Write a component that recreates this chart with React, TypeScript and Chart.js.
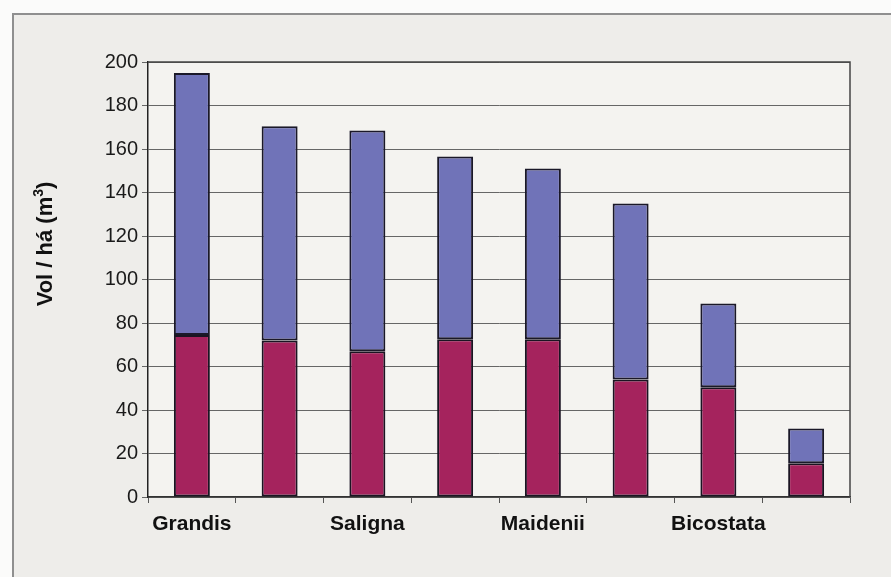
import React, { useEffect, useRef } from "react";
import { Chart, registerables } from "chart.js";

Chart.register(...registerables);

// Species (only every other category carries a printed name)
const categories = ["Grandis", "", "Saligna", "", "Maidenii", "", "Bicostata", ""];
// Lower (magenta) segment of each stacked bar, m³/ha
const lowerValues = [74.5, 72, 67, 72.5, 72.5, 54, 50.5, 15.5];
// Upper (blue) segment of each stacked bar, m³/ha
const upperValues = [120.5, 98.5, 101.5, 84, 78.5, 81, 38.5, 16];
// Y axis range and step
const yMin = 0;
const yMax = 200;
const yStep = 20;
const yTitle = "Vol / há (m";
const yTitleSup = "3";

const FONT = "'Liberation Sans', Arial, Helvetica, sans-serif";

const framePlugin = {
  id: "frame",
  beforeDraw(chart: any) {
    const { ctx, width, height, chartArea } = chart;
    ctx.save();
    ctx.fillStyle = "#fbfbfa";
    ctx.fillRect(0, 0, width, height);
    ctx.fillStyle = "#eeedea";
    ctx.fillRect(13, 14, width - 13, height - 14);
    ctx.strokeStyle = "#8f8f8f";
    ctx.lineWidth = 2;
    ctx.beginPath();
    ctx.moveTo(13, height);
    ctx.lineTo(13, 14);
    ctx.lineTo(width, 14);
    ctx.stroke();
    ctx.fillStyle = "#f4f3f0";
    ctx.fillRect(chartArea.left, chartArea.top, chartArea.right - chartArea.left, chartArea.bottom - chartArea.top);
    ctx.restore();
  },
  afterDraw(chart: any) {
    const { ctx, chartArea } = chart;
    ctx.save();
    // plot border on the top and right
    ctx.strokeStyle = "#444";
    ctx.lineWidth = 1.5;
    ctx.beginPath();
    ctx.moveTo(chartArea.left, chartArea.top);
    ctx.lineTo(chartArea.right, chartArea.top);
    ctx.lineTo(chartArea.right, chartArea.bottom);
    ctx.stroke();
    // rotated y-axis title with superscript
    const mainFont = `bold 22px ${FONT}`;
    const supFont = `bold 14px ${FONT}`;
    ctx.font = mainFont;
    const w1 = ctx.measureText(yTitle).width;
    ctx.font = supFont;
    const w2 = ctx.measureText(yTitleSup).width;
    ctx.font = mainFont;
    const w3 = ctx.measureText(")").width;
    const total = w1 + w2 + w3;
    ctx.translate(46, 244);
    ctx.rotate(-Math.PI / 2);
    ctx.fillStyle = "#111";
    ctx.textBaseline = "middle";
    ctx.textAlign = "left";
    let x = -total / 2;
    ctx.font = mainFont;
    ctx.fillText(yTitle, x, 0);
    x += w1;
    ctx.font = supFont;
    ctx.fillText(yTitleSup, x, -7);
    x += w2;
    ctx.font = mainFont;
    ctx.fillText(")", x, 0);
    ctx.restore();
  },
};

export default function App() {
  const canvasRef = useRef<HTMLCanvasElement | null>(null);

  useEffect(() => {
    if (!canvasRef.current) return;
    const chart = new Chart(canvasRef.current, {
      type: "bar",
      data: {
        labels: categories,
        datasets: [
          {
            data: lowerValues,
            backgroundColor: "#a5235d",
            borderColor: "#1a1422",
            borderWidth: 2,
            borderSkipped: false,
          },
          {
            data: upperValues,
            backgroundColor: "#7073b8",
            borderColor: "#1a1828",
            borderWidth: 2,
            borderSkipped: false,
          },
        ],
      },
      options: {
        responsive: false,
        animation: false,
        events: [],
        layout: { padding: { top: 62, right: 41, left: 0, bottom: 0 } },
        datasets: { bar: { categoryPercentage: 1, barPercentage: 0.41 } },
        plugins: { legend: { display: false }, tooltip: { enabled: false }, title: { display: false } },
        scales: {
          x: {
            stacked: true,
            offset: true,
            grid: { display: true, drawOnChartArea: false, offset: true, tickLength: 6, color: "#555", lineWidth: 1 },
            border: { display: true, color: "#333", width: 1.5 },
            ticks: {
              autoSkip: false,
              maxRotation: 0,
              padding: 9,
              color: "#111",
              font: { family: FONT, size: 21, weight: "bold" },
            },
            afterFit(scale: any) {
              scale.height = 80;
            },
          },
          y: {
            stacked: true,
            min: yMin,
            max: yMax,
            grid: { color: "#666", lineWidth: 1, tickLength: 6 },
            border: { display: true, color: "#222", width: 1.5 },
            ticks: {
              stepSize: yStep,
              padding: 4,
              color: "#1a1a1a",
              font: { family: FONT, size: 20 },
            },
            afterFit(scale: any) {
              scale.width = 148;
            },
          },
        },
      },
      plugins: [framePlugin],
    });
    return () => chart.destroy();
  }, []);

  return (
    <div style={{ position: "fixed", left: 0, top: 0, width: 891, height: 577 }}>
      <canvas ref={canvasRef} width={891} height={577} style={{ display: "block" }} />
    </div>
  );
}
